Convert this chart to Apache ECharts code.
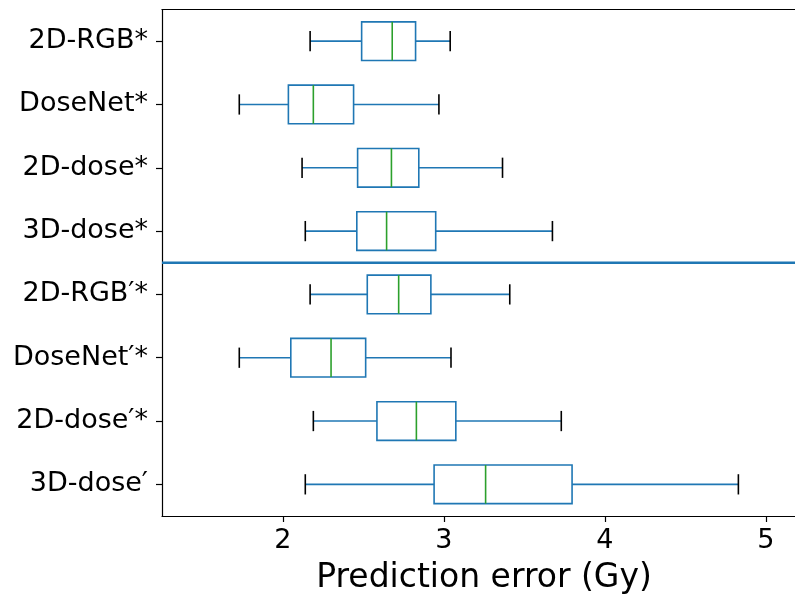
<!DOCTYPE html>
<html>
<head>
<meta charset="utf-8">
<script src="https://cdn.jsdelivr.net/npm/echarts@6/dist/echarts.min.js"></script>
<style>html,body{margin:0;padding:0;background:#fff;}#chart{width:795px;height:594px;}</style>
</head>
<body>
<div id="chart"></div>
<script>
var categories = ['2D-RGB*', 'DoseNet*', '2D-dose*', '3D-dose*', '2D-RGB\u2032*', 'DoseNet\u2032*', '2D-dose\u2032*', '3D-dose\u2032'];
var whiskerLow = [2.17, 1.73, 2.12, 2.14, 2.17, 1.73, 2.19, 2.14];
var q1Values   = [2.49, 2.035, 2.465, 2.46, 2.525, 2.05, 2.585, 2.94];
var medians    = [2.68, 2.19, 2.675, 2.645, 2.72, 2.30, 2.83, 3.26];
var q3Values   = [2.825, 2.44, 2.845, 2.95, 2.92, 2.515, 3.075, 3.797];
var whiskerHigh= [3.04, 2.97, 3.365, 3.675, 3.41, 3.045, 3.73, 4.83];
var xTicks = [2, 3, 4, 5];
var dividerPosition = 4; // between 4th and 5th category

var BLUE = '#1f77b4', GREEN = '#2ca02c', BLACK = '#000000';
var FONT = 'DejaVu Sans';

var boxData = categories.map(function (c, i) {
  return [i, whiskerLow[i], q1Values[i], medians[i], q3Values[i], whiskerHigh[i]];
});

var chart = echarts.init(document.getElementById('chart'), null, {renderer: 'canvas'});
var option = {
  animation: false,
  backgroundColor: '#ffffff',
  grid: {left: 162, right: -11, top: 9.5, bottom: 78, containLabel: false, outerBoundsMode: 'none'},
  xAxis: [{
    type: 'value', min: 1.25, max: 5.25, interval: 1, position: 'bottom',
    name: 'Prediction error (Gy)', nameLocation: 'middle', nameGap: 46,
    nameTextStyle: {fontFamily: FONT, fontSize: 33, color: BLACK},
    axisLine: {show: true, onZero: false, lineStyle: {color: BLACK, width: 1.2}},
    axisTick: {show: true, length: 6, lineStyle: {color: BLACK, width: 1.2}, customValues: xTicks},
    axisLabel: {fontFamily: FONT, fontSize: 27, color: BLACK, margin: 11, customValues: xTicks,
      formatter: function (v) { return xTicks.indexOf(v) >= 0 ? String(v) : ''; }},
    splitLine: {show: false}
  }, {
    type: 'value', min: 1.25, max: 5.25, position: 'top',
    axisLine: {show: true, onZero: false, lineStyle: {color: BLACK, width: 1.2}},
    axisTick: {show: false}, axisLabel: {show: false}, splitLine: {show: false}
  }],
  yAxis: [{
    type: 'category', data: categories, inverse: true, position: 'left',
    axisLine: {show: true, onZero: false, lineStyle: {color: BLACK, width: 1.2}},
    axisTick: {show: true, alignWithLabel: true, length: 6, lineStyle: {color: BLACK, width: 1.2}},
    axisLabel: {fontFamily: FONT, fontSize: 27, color: BLACK, margin: 14},
    splitLine: {show: false}
  }, {
    type: 'value', min: 0, max: categories.length, inverse: true, show: false
  }],
  series: [{
    type: 'custom',
    xAxisIndex: 0, yAxisIndex: 0,
    data: boxData,
    encode: {y: 0, x: [1, 2, 3, 4, 5]},
    clip: false,
    renderItem: function (params, api) {
      var yi = api.value(0);
      var lo = api.coord([api.value(1), yi]);
      var q1 = api.coord([api.value(2), yi]);
      var md = api.coord([api.value(3), yi]);
      var q3 = api.coord([api.value(4), yi]);
      var hi = api.coord([api.value(5), yi]);
      var band = Math.abs(api.coord([api.value(1), 1])[1] - api.coord([api.value(1), 0])[1]);
      var bh = band * 0.61, ch = band * 0.32;
      var cy = lo[1];
      var lw = 1.6;
      return {
        type: 'group',
        children: [
          {type: 'line', shape: {x1: lo[0], y1: cy, x2: q1[0], y2: cy}, style: {stroke: BLUE, lineWidth: lw}},
          {type: 'line', shape: {x1: q3[0], y1: cy, x2: hi[0], y2: cy}, style: {stroke: BLUE, lineWidth: lw}},
          {type: 'rect', shape: {x: q1[0], y: cy - bh / 2, width: q3[0] - q1[0], height: bh}, style: {fill: 'none', stroke: BLUE, lineWidth: lw}},
          {type: 'line', shape: {x1: md[0], y1: cy - bh / 2, x2: md[0], y2: cy + bh / 2}, style: {stroke: GREEN, lineWidth: lw}},
          {type: 'line', shape: {x1: lo[0], y1: cy - ch / 2, x2: lo[0], y2: cy + ch / 2}, style: {stroke: BLACK, lineWidth: lw}},
          {type: 'line', shape: {x1: hi[0], y1: cy - ch / 2, x2: hi[0], y2: cy + ch / 2}, style: {stroke: BLACK, lineWidth: lw}}
        ]
      };
    }
  }, {
    type: 'line',
    xAxisIndex: 0, yAxisIndex: 1,
    data: [[1.25, dividerPosition], [5.25, dividerPosition]],
    symbol: 'none',
    lineStyle: {color: BLUE, width: 2.4},
    silent: true
  }]
};
chart.setOption(option);
</script>
</body>
</html>
